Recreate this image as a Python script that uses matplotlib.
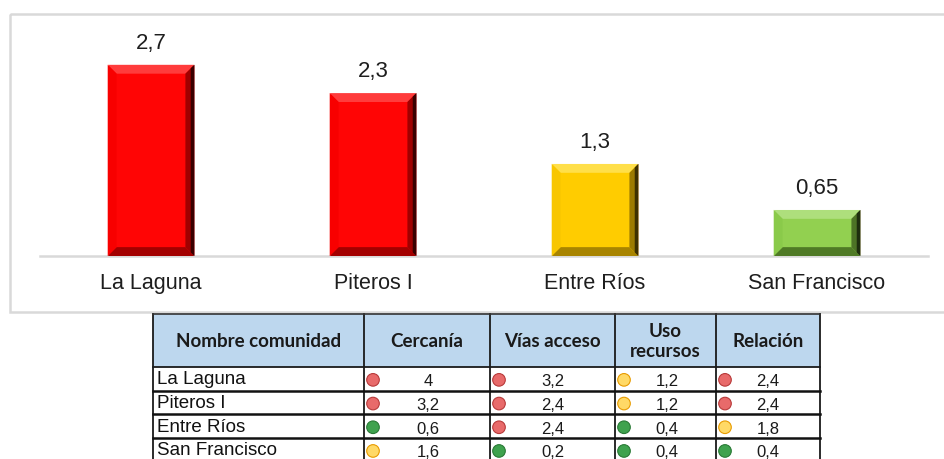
import numpy as np
import matplotlib
matplotlib.use("Agg")
import matplotlib.pyplot as plt
from matplotlib.patches import Rectangle, Polygon, Circle

# chart data
comunidades = ["La Laguna", "Piteros I", "Entre Ríos", "San Francisco"]
valores = [2.7, 2.3, 1.3, 0.65]
nivel_barra = ["r", "r", "y", "g"]

# table data
encabezados = ["Nombre comunidad", "Cercanía", "Vías acceso", "Uso\nrecursos", "Relación"]
cercania = [4, 3.2, 0.6, 1.6]
vias_acceso = [3.2, 2.4, 2.4, 0.2]
uso_recursos = [1.2, 1.2, 0.4, 0.4]
relacion = [2.4, 2.4, 1.8, 0.4]
nivel_cercania = ["r", "r", "g", "y"]
nivel_vias = ["r", "r", "r", "g"]
nivel_uso = ["y", "y", "g", "g"]
nivel_relacion = ["r", "r", "y", "g"]

def coma(v):
    return ("%g" % v).replace(".", ",")

# body, top bevel, bottom bevel, left, right inner, right outer
bar_cols = {
    "r": ["#FF0505", "#FF3C3C", "#A30000", "#F80000", "#A00000", "#3A0000"],
    "y": ["#FFCC00", "#FFDF4A", "#A88400", "#F8C600", "#9C7A00", "#3D3000"],
    "g": ["#92D050", "#AEDF7C", "#4F7A25", "#8ACA4A", "#4D7326", "#1E2E0E"],
}
dot_cols = {"r": ("#E86A6A", "#B83A3A"), "y": ("#FFD966", "#E89B00"), "g": ("#3FA24E", "#2A7A36")}

W, H = 945, 459
fig = plt.figure(figsize=(W / 100, H / 100), dpi=100)

# background axes in pixel units for the frame and table
bg = fig.add_axes([0, 0, 1, 1])
bg.set_xlim(0, W)
bg.set_ylim(H, 0)
bg.axis("off")
bg.add_patch(Rectangle((9.5, 14), 960, 297.5, fill=False, ec="#D9D9D9", lw=1.8))

# ---- bar chart ----
ax = fig.add_axes([40 / W, 203 / H, 888 / W, 236 / H])
ax.set_zorder(2)
ax.patch.set_alpha(0)
x = np.arange(len(comunidades))
bars = ax.bar(x, valores, width=0.39, color=[bar_cols[c][0] for c in nivel_barra],
              edgecolor="#F2D0D0", linewidth=0.6, zorder=2)
ax.set_xlim(-0.5, 3.5)
ax.set_ylim(0, 3.333)
dx, dy = 0.04, 0.125
for b, lvl in zip(bars, nivel_barra):
    c = bar_cols[lvl]
    x0, x1, h = b.get_x(), b.get_x() + b.get_width(), b.get_height()
    polys = [
        ([(x0, h), (x1, h), (x1 - dx, h - dy), (x0 + dx, h - dy)], c[1]),
        ([(x0, 0), (x1, 0), (x1 - dx, dy), (x0 + dx, dy)], c[2]),
        ([(x0, 0), (x0, h), (x0 + dx, h - dy), (x0 + dx, dy)], c[3]),
        ([(x1, 0), (x1, h), (x1 - dx, h - dy), (x1 - dx, dy)], c[4]),
        ([(x1, 0), (x1, h), (x1 - dx * 0.4, h - dy * 0.4), (x1 - dx * 0.4, dy * 0.4)], c[5]),
    ]
    for pts, col in polys:
        ax.add_patch(Polygon(pts, closed=True, fc=col, ec="none", zorder=3))
ax.bar_label(bars, labels=[coma(v) for v in valores], padding=8,
             fontsize=16, color="#1E1E1E", family="Liberation Sans")
for s in ["top", "right", "left"]:
    ax.spines[s].set_visible(False)
ax.spines["bottom"].set_color("#D9D9D9")
ax.spines["bottom"].set_linewidth(1.8)
ax.set_yticks([])
ax.set_xticks(x)
ax.set_xticklabels(comunidades, fontsize=15.5, color="#1E1E1E", family="Liberation Sans")
ax.tick_params(axis="x", length=0, pad=12.5)

# ---- table ----
col_edges = [153, 364, 490, 615, 716, 820]
head_top, head_bot = 314, 367
row_h = 23.7
n_rows = len(comunidades)
bg.add_patch(Rectangle((col_edges[0], head_top), col_edges[-1] - col_edges[0],
                       head_bot - head_top, fc="#BDD7EE", ec="none"))
for i, txt in enumerate(encabezados):
    cx = (col_edges[i] + col_edges[i + 1]) / 2
    bg.text(cx, (head_top + head_bot) / 2 + 1, txt, ha="center", va="center",
            fontsize=13.5, fontweight="bold", family="Lato", color="#1A1A1A",
            linespacing=1.15)

cols_vals = [cercania, vias_acceso, uso_recursos, relacion]
cols_lvls = [nivel_cercania, nivel_vias, nivel_uso, nivel_relacion]
num_x = [428, 553, 667, 768]
for r in range(n_rows):
    top = head_bot + r * row_h
    mid = top + row_h / 2
    bg.text(157, mid + 1, comunidades[r], ha="left", va="center",
            fontsize=13.5, family="Liberation Sans", color="#111111")
    for j in range(4):
        fc, ec = dot_cols[cols_lvls[j][r]]
        bg.add_patch(Circle((col_edges[j + 1] + 9, mid + 1), 6.3, fc=fc, ec=ec, lw=0.8))
        bg.text(num_x[j], mid + 3, coma(cols_vals[j][r]), ha="center", va="center",
                fontsize=12, family="Liberation Sans", color="#1A1A1A")

# grid lines
table_bot = head_bot + n_rows * row_h
for xe in col_edges:
    bg.plot([xe, xe], [head_top, table_bot], color="#1A1A1A", lw=1.3)
bg.plot([col_edges[0], col_edges[-1]], [head_top, head_top], color="#333333", lw=1.2)
bg.plot([col_edges[0], col_edges[-1]], [head_bot, head_bot], color="#1A1A1A", lw=1.3)
for r in range(1, n_rows + 1):
    y = head_bot + r * row_h
    bg.plot([col_edges[0], col_edges[-1]], [y, y], color="#111111", lw=1.8)

fig.savefig("out.png", dpi=100)
